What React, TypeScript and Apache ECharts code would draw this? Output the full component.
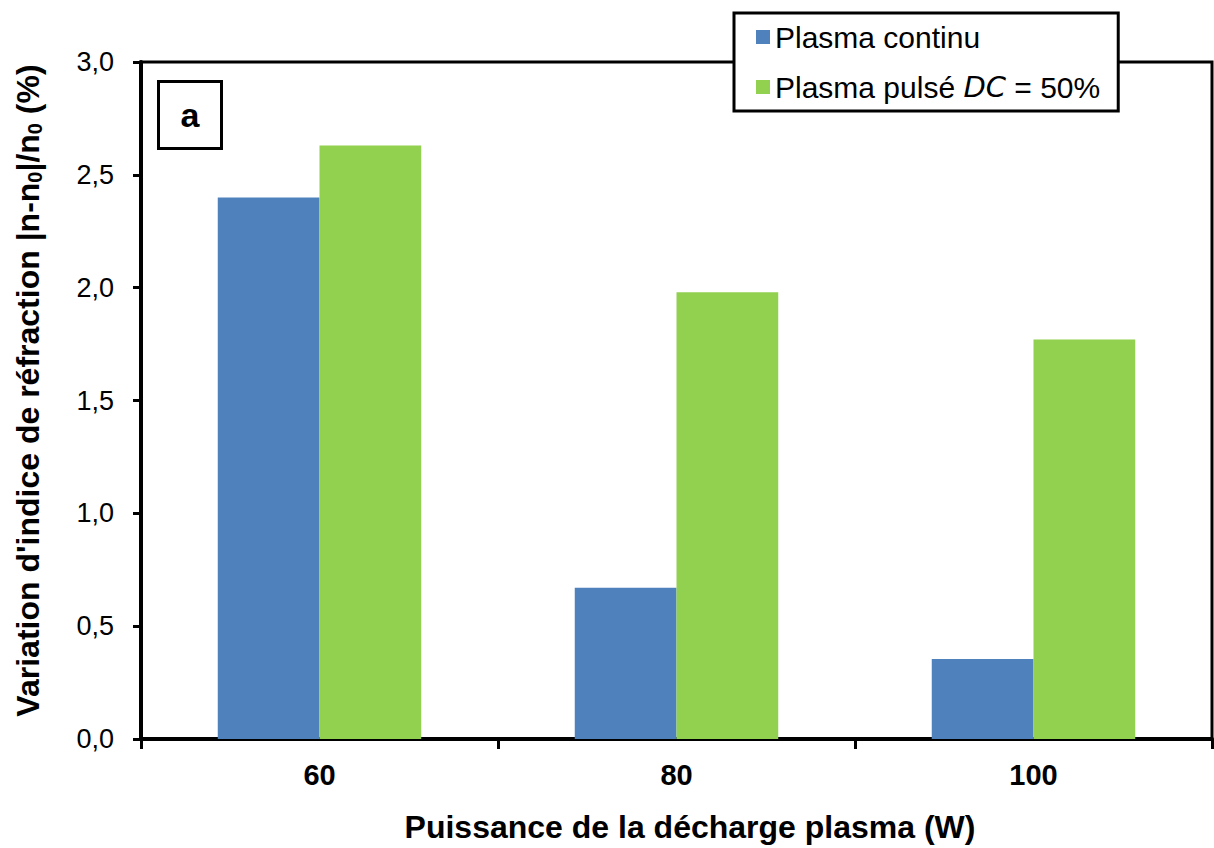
import React, { useEffect, useRef } from "react";
import * as echarts from "echarts";

const categories = ["60", "80", "100"];
const continuValues = [2.4, 0.67, 0.355];
const pulseValues = [2.63, 1.98, 1.77];
const seriesNames = ["Plasma continu", "Plasma pulsé DC = 50%"];
const yTicks = { min: 0, max: 3, interval: 0.5 };

export default function App() {
  const ref = useRef<HTMLDivElement>(null);
  useEffect(() => {
    document.body.style.margin = "0";
    if (!ref.current) return;
    const chart = echarts.init(ref.current, undefined, { renderer: "svg" });
    const font = "Liberation Sans, Arial, sans-serif";
    chart.setOption({
      animation: false,
      textStyle: { fontFamily: font, color: "#000" },
      grid: {
        left: 141,
        right: 2,
        top: 62,
        bottom: 109,
        show: true,
        borderColor: "#000",
        borderWidth: 3,
        backgroundColor: "transparent",
      },
      legend: {
        orient: "vertical",
        left: 734,
        top: 13,
        padding: [9, 18, 9, 22],
        itemGap: 20,
        itemWidth: 14,
        itemHeight: 14,
        icon: "rect",
        borderColor: "#000",
        borderWidth: 3,
        backgroundColor: "#fff",
        data: seriesNames,
        formatter: (name: string) =>
          name === seriesNames[1]
            ? "{n|Plasma pulsé }{i|DC}{n| = 50%}"
            : "{n|" + name + "}",
        textStyle: {
          rich: {
            n: { fontFamily: font, fontSize: 30, color: "#000", lineHeight: 32 },
            i: {
              fontFamily: "DejaVu Sans, sans-serif",
              fontStyle: "italic",
              fontSize: 29,
              color: "#000",
              lineHeight: 32,
            },
          },
        },
      },
      xAxis: {
        type: "category",
        data: categories,
        name: "Puissance de la décharge plasma (W)",
        nameLocation: "middle",
        nameGap: 72,
        nameTextStyle: {
          fontFamily: font,
          fontWeight: "bold",
          fontSize: 32,
          color: "#000",
          padding: [0, 0, 0, 27],
        },
        axisLine: { lineStyle: { color: "#000", width: 4 } },
        axisTick: { show: true, length: 10, lineStyle: { color: "#000", width: 3 } },
        axisLabel: {
          fontFamily: font,
          fontWeight: "bold",
          fontSize: 29,
          color: "#000",
          margin: 21,
        },
        splitLine: { show: false },
      },
      yAxis: {
        type: "value",
        min: yTicks.min,
        max: yTicks.max,
        interval: yTicks.interval,
        name:
          "{b|Variation d'indice de réfraction |n-n}{s|0}{b||/n}{s|0}{b| (%)}",
        nameLocation: "middle",
        nameGap: 96,
        nameTextStyle: {
          padding: [0, 0, 0, 20],
          rich: {
            b: {
              fontFamily: font,
              fontWeight: "bold",
              fontSize: 32,
              color: "#000",
              lineHeight: 34,
            },
            s: {
              fontFamily: font,
              fontWeight: "bold",
              fontSize: 20,
              color: "#000",
              lineHeight: 4,
              verticalAlign: "bottom",
            },
          },
        },
        axisLine: { show: true, lineStyle: { color: "#000", width: 4 } },
        axisTick: { show: true, length: 8, lineStyle: { color: "#000", width: 3 } },
        axisLabel: {
          fontFamily: font,
          fontSize: 27,
          color: "#000",
          margin: 27,
          formatter: (v: number) => v.toFixed(1).replace(".", ","),
        },
        splitLine: { show: false },
      },
      series: [
        {
          name: seriesNames[0],
          type: "bar",
          data: continuValues,
          barGap: "0%",
          barCategoryGap: "43%",
          itemStyle: { color: "#4F81BD" },
        },
        {
          name: seriesNames[1],
          type: "bar",
          data: pulseValues,
          barGap: "0%",
          barCategoryGap: "43%",
          itemStyle: { color: "#92D050" },
        },
      ],
      graphic: [
        {
          type: "group",
          left: 157,
          top: 80,
          children: [
            {
              type: "rect",
              shape: { x: 0, y: 0, width: 63, height: 67 },
              style: { fill: "#fff", stroke: "#000", lineWidth: 3 },
            },
            {
              type: "text",
              x: 31.5,
              y: 33.5,
              style: {
                text: "a",
                fontFamily: font,
                fontWeight: "bold",
                fontSize: 34,
                fill: "#000",
                align: "center",
                verticalAlign: "middle",
              },
            },
          ],
        },
      ],
    });
    return () => chart.dispose();
  }, []);
  return <div ref={ref} style={{ width: 1214, height: 848 }} />;
}
